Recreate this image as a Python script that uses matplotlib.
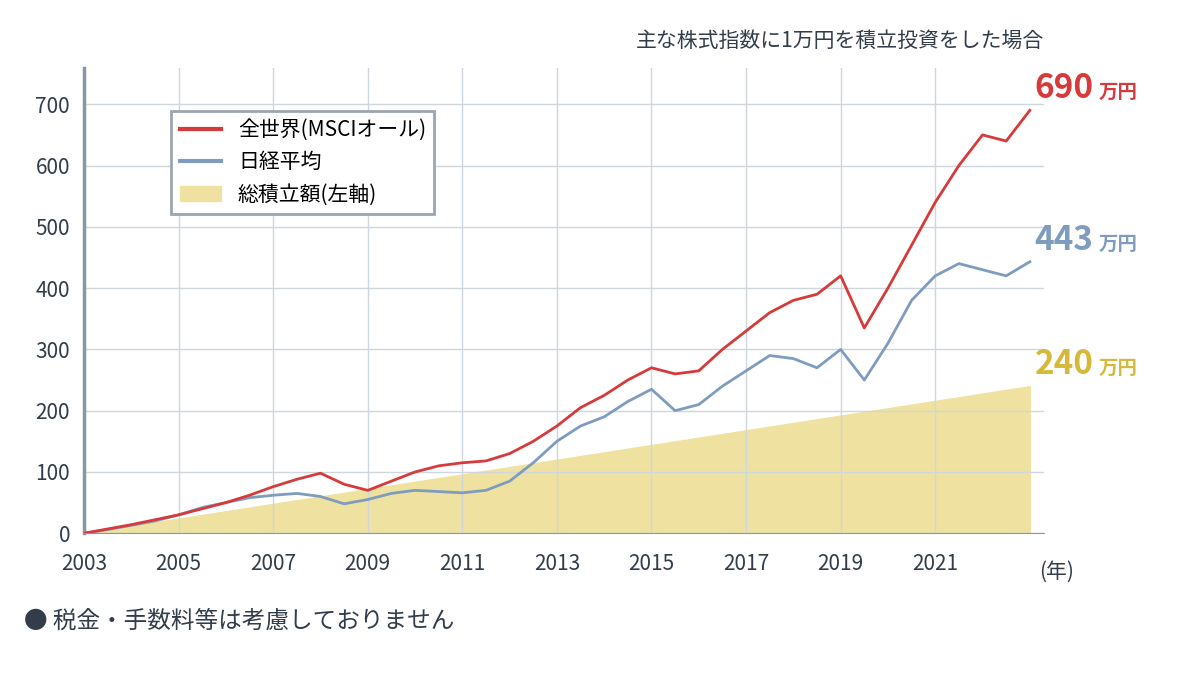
import matplotlib
matplotlib.use("Agg")
import matplotlib.pyplot as plt
import numpy as np

plt.rcParams['font.family'] = ['Noto Sans CJK JP', 'DejaVu Sans']

years = [2003 + 0.5*i for i in range(41)]
contrib = [0,6,12,18,24,30,36,42,48,54,60,66,72,78,84,90,96,102,108,114,120,126,132,138,144,150,156,162,168,174,180,186,192,198,204,210,216,222,228,234,240]
world = [0,7,14,22,30,40,50,62,76,88,98,80,70,85,100,110,115,118,130,150,175,205,225,250,270,260,265,300,330,360,380,390,420,335,400,470,540,600,650,640,690]
nikkei = [0,6,13,20,30,42,50,58,62,65,60,48,55,65,70,68,66,70,85,115,150,175,190,215,235,200,210,240,265,290,285,270,300,250,310,380,420,440,430,420,443]
xticks = [2003,2005,2007,2009,2011,2013,2015,2017,2019,2021]

red = '#d63a3a'; blue = '#7f9cbf'; yellow = '#efe2a0'; gold = '#d4b93a'

fig = plt.figure(figsize=(12, 6.75), dpi=100)
ax = fig.add_axes([0.07, 0.21, 0.8, 0.69])
ax.fill_between(years, 0, contrib, color=yellow, zorder=1)
ax.plot(years, world, color=red, lw=2, zorder=3)
ax.plot(years, nikkei, color=blue, lw=2, zorder=2)
ax.set_xlim(2003, 2023.3)
ax.set_ylim(0, 760)
ax.set_yticks(range(0, 701, 100))
ax.set_xticks(xticks)
ax.grid(color='#cfd6dc', lw=1)
for s in ['top', 'right']:
    ax.spines[s].set_visible(False)
ax.spines['left'].set_color('#8a96a3'); ax.spines['left'].set_linewidth(2.5)
ax.spines['bottom'].set_color('#8a96a3')
ax.tick_params(labelsize=15, colors='#333d4a', length=0)
ax.tick_params(axis='x', pad=14)
ax.tick_params(axis='y', pad=10)
ax.text(2023.2, -45, '(年)', fontsize=15, color='#333d4a', va='top')

ax.text(years[-1]+0.1, world[-1]+20, '690', color=red, fontsize=24, fontweight='bold')
ax.text(years[-1]+1.45, world[-1]+20, '万円', color=red, fontsize=14, fontweight='bold')
ax.text(years[-1]+0.1, nikkei[-1]+20, '443', color=blue, fontsize=24, fontweight='bold')
ax.text(years[-1]+1.45, nikkei[-1]+20, '万円', color=blue, fontsize=14, fontweight='bold')
ax.text(years[-1]+0.1, contrib[-1]+20, '240', color=gold, fontsize=24, fontweight='bold')
ax.text(years[-1]+1.45, contrib[-1]+20, '万円', color=gold, fontsize=14, fontweight='bold')

from matplotlib.patches import Patch
from matplotlib.lines import Line2D
handles = [Line2D([0],[0],color=red,lw=3), Line2D([0],[0],color=blue,lw=3), Patch(color=yellow)]
labels = ['全世界(MSCIオール)', '日経平均', '総積立額(左軸)']
leg = ax.legend(handles, labels, loc='upper left', bbox_to_anchor=(0.08, 0.93), fontsize=15,
                frameon=True, fancybox=False, edgecolor='#9aa5b1', framealpha=1)
leg.get_frame().set_linewidth(2)

fig.text(0.87, 0.93, '主な株式指数に1万円を積立投資をした場合', ha='right', fontsize=15, color='#333d4a')
fig.text(0.02, 0.07, '● 税金・手数料等は考慮しておりません', fontsize=17, color='#333d4a')
fig.savefig('out.png', dpi=100)
